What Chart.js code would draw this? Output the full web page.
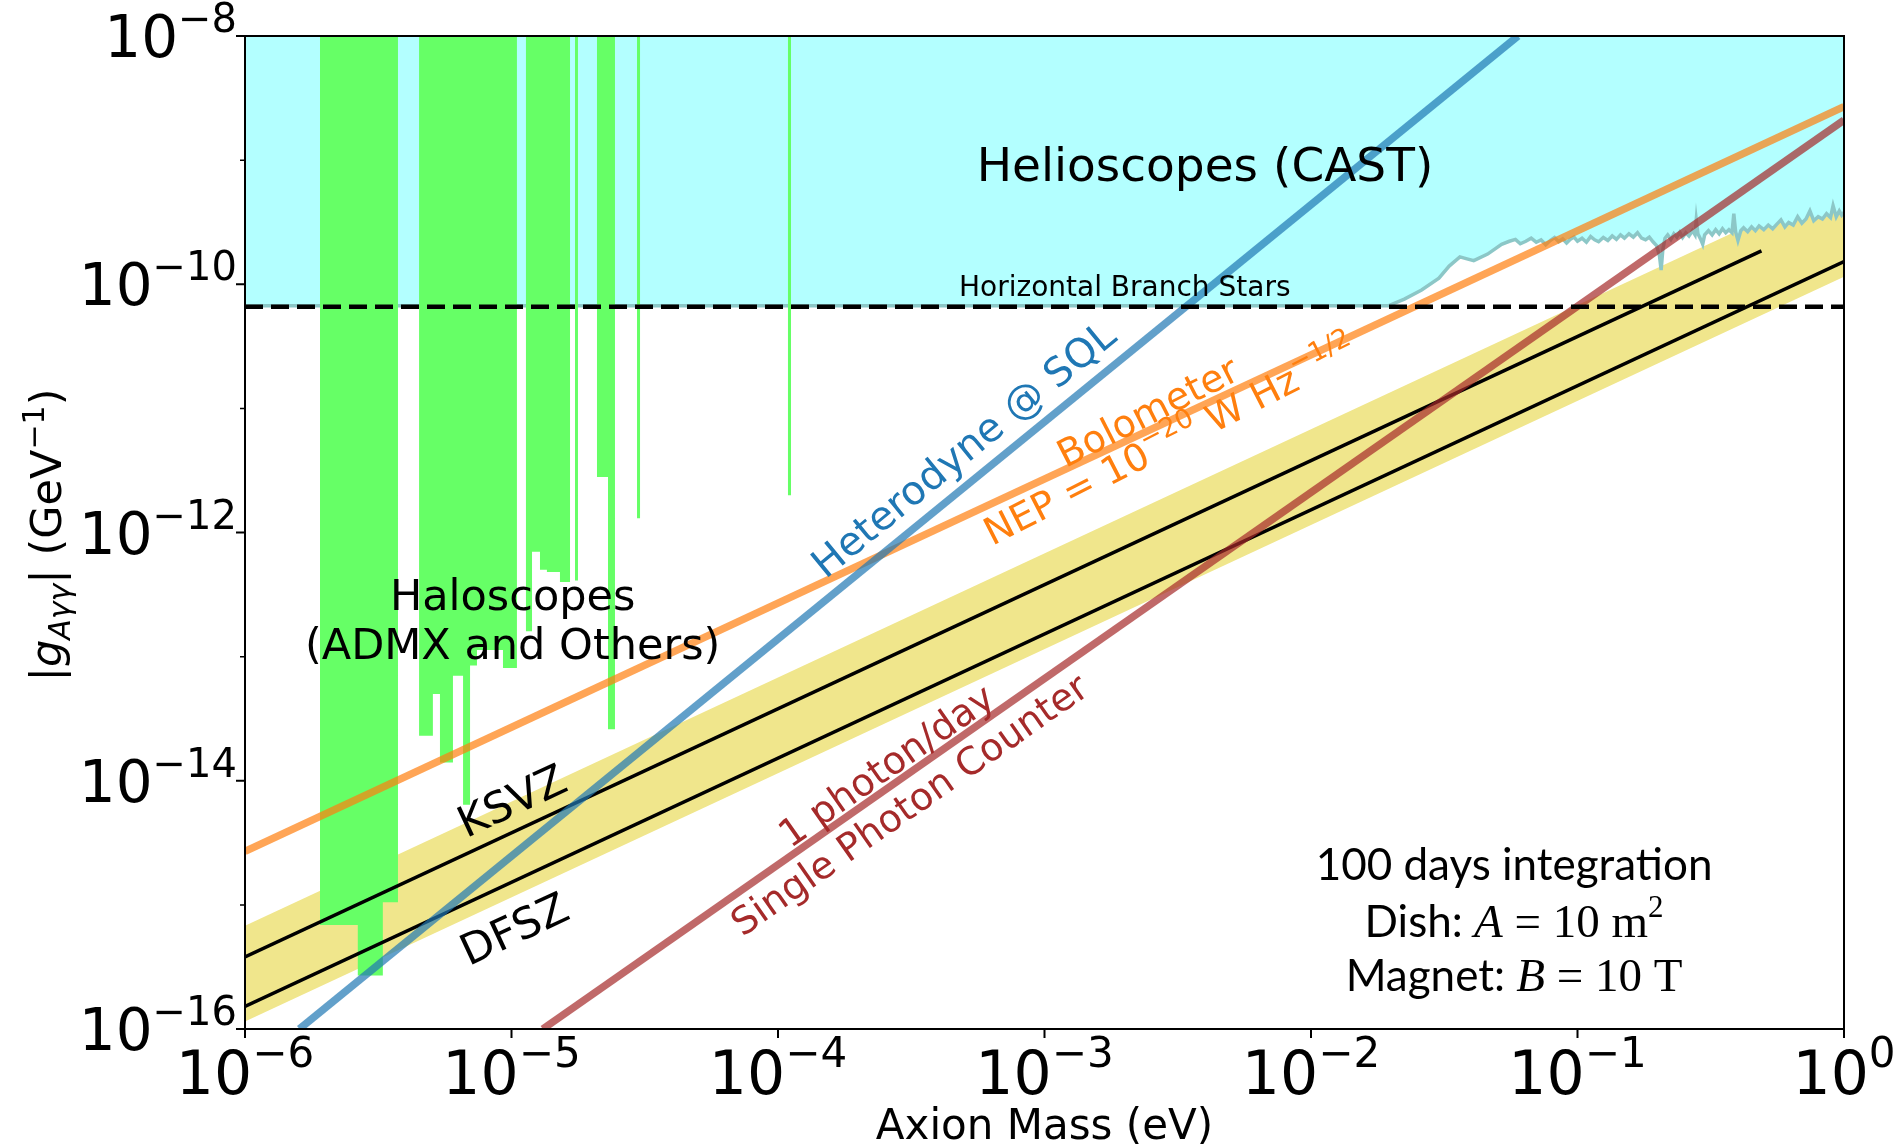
<!DOCTYPE html>
<html>
<head>
<meta charset="utf-8">
<script src="https://cdn.jsdelivr.net/npm/chart.js@4"></script>
<style>
  html, body { margin: 0; padding: 0; background: #fff; }
  canvas { display: block; }
</style>
</head>
<body>
<canvas id="axionChart" width="1895" height="1148"></canvas>
<script>
// ---- axes ----
const xTickVals = [1e-6, 1e-5, 1e-4, 1e-3, 1e-2, 1e-1, 1];
const xTickExp = ['−6', '−5', '−4', '−3', '−2', '−1', '0'];
const yTickVals = [1e-8, 1e-10, 1e-12, 1e-14, 1e-16];
const yTickExp = ['−8', '−10', '−12', '−14', '−16'];
const yMinorVals = [1e-9, 1e-11, 1e-13, 1e-15];

// ---- QCD axion band and model lines (g in GeV^-1, m in eV) ----
const bandMass = [1e-6, 1];
const bandUpper = [6.8e-16, 6.8e-10];
const bandLower = [1.15e-16, 1.15e-10];
const ksvzMass = [1e-6, 0.49];
const ksvzG = [3.8e-16, 1.86e-10];
const dfszMass = [1e-6, 1];
const dfszG = [1.52e-16, 1.52e-10];

// ---- projected sensitivities ----
const heteroMass = [1.6e-6, 0.0598];
const heteroG = [1e-16, 1e-8];
const boloMass = [1e-6, 1];
const boloG = [2.7e-15, 2.7e-9];
const photonMass = [1.31e-5, 1];
const photonG = [1e-16, 2.1e-9];

// ---- horizontal branch stars ----
const hbMass = [1e-6, 1];
const hbG = [6.6e-11, 6.6e-11];

// ---- CAST helioscope limit ----
const castMass = [1e-6, 0.0195, 0.0224, 0.026, 0.0302, 0.033, 0.0362, 0.0385, 0.0408, 0.046,
  0.0519, 0.0555, 0.0585, 0.061, 0.064, 0.067, 0.070, 0.073, 0.076, 0.079,
  0.082, 0.085, 0.088, 0.091, 0.094, 0.097, 0.1, 0.104, 0.108, 0.112,
  0.116, 0.12, 0.125, 0.13, 0.135, 0.14, 0.145, 0.15, 0.156, 0.162,
  0.168, 0.174, 0.18, 0.186, 0.192, 0.198, 0.203, 0.206, 0.209, 0.213,
  0.218, 0.224, 0.23, 0.236, 0.242, 0.248, 0.255, 0.262, 0.27, 0.276,
  0.279, 0.283, 0.29, 0.295, 0.3, 0.31, 0.32, 0.33, 0.34, 0.35,
  0.36, 0.37, 0.38, 0.386, 0.392, 0.4, 0.41, 0.42, 0.435, 0.45,
  0.465, 0.48, 0.5, 0.52, 0.54, 0.56, 0.58, 0.6, 0.62, 0.645,
  0.67, 0.695, 0.72, 0.745, 0.77, 0.8, 0.83, 0.86, 0.89, 0.91,
  0.935, 0.96, 0.98, 1.0];
const castG = [6.7e-11, 6.7e-11, 7.6e-11, 9.0e-11, 1.12e-10, 1.4e-10, 1.66e-10, 1.6e-10, 1.55e-10, 1.75e-10,
  2.1e-10, 2.22e-10, 2.3e-10, 2.12e-10, 2.22e-10, 2.35e-10, 2.18e-10, 2.28e-10, 2.08e-10, 2.25e-10,
  2.38e-10, 2.2e-10, 2.32e-10, 2.15e-10, 2.3e-10, 2.4e-10, 2.22e-10, 2.35e-10, 2.18e-10, 2.42e-10,
  2.28e-10, 2.2e-10, 2.38e-10, 2.25e-10, 2.45e-10, 2.3e-10, 2.5e-10, 2.35e-10, 2.55e-10, 2.4e-10,
  2.6e-10, 2.35e-10, 2.28e-10, 2.4e-10, 2.2e-10, 2.05e-10, 1.7e-10, 1.3e-10, 1.9e-10, 2.35e-10,
  2.5e-10, 2.3e-10, 2.55e-10, 2.4e-10, 2.62e-10, 2.38e-10, 2.6e-10, 2.45e-10, 2.7e-10, 2.5e-10,
  3.3e-10, 2.55e-10, 2.3e-10, 2.1e-10, 2.5e-10, 2.7e-10, 2.5e-10, 2.75e-10, 2.55e-10, 2.8e-10,
  2.6e-10, 2.75e-10, 2.6e-10, 3.7e-10, 2.65e-10, 2.25e-10, 2.7e-10, 2.85e-10, 2.65e-10, 2.9e-10,
  2.7e-10, 2.95e-10, 2.75e-10, 3.0e-10, 2.8e-10, 3.05e-10, 3.3e-10, 2.9e-10, 3.15e-10, 3.0e-10,
  3.5e-10, 3.1e-10, 3.35e-10, 3.9e-10, 3.25e-10, 3.5e-10, 3.35e-10, 3.7e-10, 3.45e-10, 4.3e-10,
  3.5e-10, 3.9e-10, 3.6e-10, 3.8e-10];

// ---- haloscope exclusions: mass window [lo, hi] and limit ----
const haloLo = [1.91e-6, 2.65e-6, 3.29e-6, 4.5e-6, 5.07e-6, 5.39e-6, 6.03e-6, 6.58e-6, 6.99e-6, 7.42e-6,
  9.29e-6, 1.133e-5, 1.194e-5, 1.279e-5, 1.358e-5, 1.52e-5, 1.731e-5, 2.093e-5, 2.302e-5, 2.958e-5, 1.09e-4];
const haloHi = [2.65e-6, 3.29e-6, 3.75e-6, 5.07e-6, 5.39e-6, 6.03e-6, 6.58e-6, 6.99e-6, 7.42e-6, 9.29e-6,
  1.048e-5, 1.194e-5, 1.279e-5, 1.358e-5, 1.52e-5, 1.658e-5, 1.776e-5, 2.302e-5, 2.445e-5, 3.036e-5, 1.12e-4];
const haloG = [6.9e-16, 2.7e-16, 1.05e-15, 2.3e-14, 5.0e-14, 1.4e-14, 7.0e-14, 6.4e-15, 8.5e-14, 1.13e-13,
  8.1e-14, 1.6e-13, 7.0e-13, 5.0e-13, 4.8e-13, 4.0e-13, 4.1e-13, 2.8e-12, 2.6e-14, 1.3e-12, 2.0e-12];

const gTop = 1e-8;

function pts(xs, ys) {
  return xs.map((x, i) => ({ x: x, y: ys[i] }));
}

// outline of the haloscope bars, hanging from the top of the plot
function haloOutline() {
  const out = [];
  haloLo.forEach((lo, i) => {
    if (i === 0 || lo !== haloHi[i - 1]) out.push({ x: lo, y: gTop });
    out.push({ x: lo, y: haloG[i] }, { x: haloHi[i], y: haloG[i] });
    if (i === haloLo.length - 1 || haloLo[i + 1] !== haloHi[i]) out.push({ x: haloHi[i], y: gTop });
  });
  return out;
}

const none = 'rgba(0,0,0,0)';

const datasets = [
  { data: pts(bandMass, bandUpper), fill: '+1', backgroundColor: '#f0e68c', borderColor: none, borderWidth: 1, order: 9 },
  { data: pts(bandMass, bandLower), fill: false, borderColor: none, borderWidth: 1, order: 9 },
  { data: pts(castMass, castG), fill: 'end', backgroundColor: '#b3ffff', borderColor: '#8cc7c7', borderWidth: 3.5, order: 8 },
  { data: haloOutline(), fill: 'end', backgroundColor: '#66ff66', borderColor: none, borderWidth: 1, order: 7 },
  { data: pts(ksvzMass, ksvzG), borderColor: '#000', borderWidth: 3.5, order: 6 },
  { data: pts(dfszMass, dfszG), borderColor: '#000', borderWidth: 3.5, order: 6 },
  { data: pts(photonMass, photonG), borderColor: 'rgba(165,42,42,0.7)', borderWidth: 7.5, order: 5 },
  { data: pts(boloMass, boloG), borderColor: 'rgba(255,127,14,0.7)', borderWidth: 7.5, order: 4 },
  { data: pts(heteroMass, heteroG), borderColor: 'rgba(31,119,180,0.7)', borderWidth: 7.5, order: 3 },
  { data: pts(hbMass, hbG), borderColor: '#000', borderWidth: 4.5, borderDash: [18, 8], order: 2 }
];
datasets.forEach(d => { d.clip = 0; d.pointRadius = 0; if (d.fill === undefined) d.fill = false; });

const SANS = '"DejaVu Sans"';
const BOX = 'Lato';
const SERIF = '"Liberation Serif"';
function f(size, family, style) {
  return (style ? style + ' ' : '') + size + 'px ' + (family || SANS);
}

// text notes: anchor in data coordinates, angle in degrees
const notes = [
  { m: 4.0e-3, g: 6.8e-10, runs: [['Helioscopes (CAST)', f(47)]] },
  { m: 2.0e-3, g: 8.0e-11, runs: [['Horizontal Branch Stars', f(28)]] },
  { m: 1.01e-5, g: 2.37e-13, runs: [['Haloscopes', f(43)]] },
  { m: 1.01e-5, g: 9.55e-14, runs: [['(ADMX and Others)', f(43)]] },
  { m: 1.0e-5, g: 7.0e-15, angle: 25, mid: 43, runs: [['KSVZ', f(43)]] },
  { m: 1.02e-5, g: 6.5e-16, angle: 25, mid: 43, runs: [['DFSZ', f(43)]] },
  { m: 4.94e-4, g: 4.75e-12, angle: 39.3, mid: 40, color: '#1f77b4', runs: [['Heterodyne @ SQL', f(40)]] },
  { m: 2.43e-3, g: 9.5e-12, angle: 27, mid: 38, color: '#ff7f0e', runs: [['Bolometer', f(38)]] },
  { m: 2.96e-3, g: 5.56e-12, angle: 27, mid: 38, color: '#ff7f0e',
    runs: [['NEP = 10', f(38)], ['−20', f(27), 17], [' W Hz', f(38)], ['−1/2', f(27), 17]] },
  { m: 2.54e-4, g: 1.34e-14, angle: 35, mid: 38, color: '#a52a2a', runs: [['1 photon/day', f(38)]] },
  { m: 3.1e-4, g: 6.5e-15, angle: 35, mid: 38, color: '#a52a2a', runs: [['Single Photon Counter', f(38)]] },
  { m: 0.0578, g: 1.58e-15, runs: [['100 days integration', f(44, BOX)]] },
  { m: 0.0578, g: 5.5e-16,
    runs: [['Dish: ', f(44, BOX)], ['A', f(47, SERIF, 'italic')], [' = 10 m', f(47, SERIF)], ['2', f(31, SERIF), 20]] },
  { m: 0.0578, g: 2.02e-16,
    runs: [['Magnet: ', f(44, BOX)], ['B', f(47, SERIF, 'italic')], [' = 10 T', f(47, SERIF)]] }
];

// draw a row of text pieces (text, font, rise) at x,y
function drawRuns(ctx, runs, x, y, o) {
  o = o || {};
  ctx.save();
  ctx.translate(x, y);
  ctx.rotate(-(o.angle || 0) * Math.PI / 180);
  let total = 0;
  const widths = runs.map(r => { ctx.font = r[1]; const w = ctx.measureText(r[0]).width; total += w; return w; });
  let cx = o.align === 'left' ? 0 : o.align === 'right' ? -total : -total / 2;
  const base = o.mid ? 0.36 * o.mid : 0;
  ctx.fillStyle = o.color || '#000';
  ctx.textAlign = 'left';
  ctx.textBaseline = 'alphabetic';
  runs.forEach((r, i) => {
    ctx.font = r[1];
    ctx.fillText(r[0], cx, base - (r[2] || 0));
    cx += widths[i];
  });
  ctx.restore();
}

const decor = {
  id: 'decor',
  afterDraw(chart) {
    const { ctx, chartArea: a } = chart;
    const x = chart.scales.x, y = chart.scales.y;
    ctx.save();
    ctx.strokeStyle = '#000';
    ctx.lineWidth = 2;
    ctx.strokeRect(a.left, a.top, a.right - a.left, a.bottom - a.top);

    ctx.beginPath();
    xTickVals.forEach(v => { const px = x.getPixelForValue(v); ctx.moveTo(px, a.bottom); ctx.lineTo(px, a.bottom + 9); });
    yTickVals.forEach(v => { const py = y.getPixelForValue(v); ctx.moveTo(a.left - 9, py); ctx.lineTo(a.left, py); });
    ctx.stroke();
    ctx.lineWidth = 1.5;
    ctx.beginPath();
    yMinorVals.forEach(v => { const py = y.getPixelForValue(v); ctx.moveTo(a.left - 5, py); ctx.lineTo(a.left, py); });
    ctx.stroke();

    xTickVals.forEach((v, i) => {
      drawRuns(ctx, [['10', f(60)], [xTickExp[i], f(42), 27]], x.getPixelForValue(v), a.bottom + 65);
    });
    yTickVals.forEach((v, i) => {
      drawRuns(ctx, [['10', f(58)], [yTickExp[i], f(40), 25]], a.left - 8, y.getPixelForValue(v) + 21, { align: 'right' });
    });

    drawRuns(ctx, [['Axion Mass (eV)', f(42)]], (a.left + a.right) / 2, 1139);
    drawRuns(ctx, [['|', f(43)], ['g', f(43, SANS, 'italic')], ['Aγγ', f(30, SANS, 'italic'), -9],
      ['| (GeV', f(43)], ['−1', f(30), 17], [')', f(43)]], 61, 535, { angle: 90 });

    notes.forEach(n => {
      drawRuns(ctx, n.runs, x.getPixelForValue(n.m), y.getPixelForValue(n.g),
        { angle: n.angle, mid: n.mid, color: n.color });
    });
    ctx.restore();
  }
};

new Chart(document.getElementById('axionChart'), {
  type: 'line',
  data: { datasets: datasets },
  options: {
    responsive: false,
    animation: false,
    events: [],
    layout: { padding: { top: 36, right: 51, bottom: 0, left: 0 } },
    elements: { line: { tension: 0 }, point: { radius: 0 } },
    plugins: { legend: { display: false }, tooltip: { enabled: false } },
    scales: {
      x: {
        type: 'logarithmic', min: 1e-6, max: 1,
        ticks: { display: false }, grid: { display: false }, border: { display: false },
        afterFit: s => { s.height = 119; }
      },
      y: {
        type: 'logarithmic', min: 1e-16, max: 1e-8,
        ticks: { display: false }, grid: { display: false }, border: { display: false },
        afterFit: s => { s.width = 245; }
      }
    }
  },
  plugins: [decor]
});
</script>
</body>
</html>
